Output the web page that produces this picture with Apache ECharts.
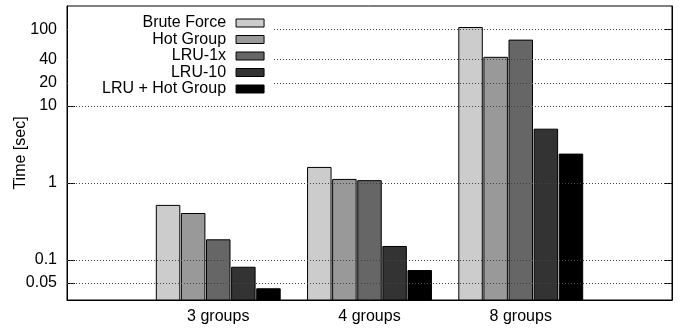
<!DOCTYPE html>
<html>
<head>
<meta charset="utf-8">
<script src="https://cdn.jsdelivr.net/npm/echarts@6/dist/echarts.min.js"></script>
<style>html,body{margin:0;padding:0;background:#fff}#c{width:684px;height:329px}</style>
</head>
<body>
<div id="c"></div>
<script>
const categories = ['', '3 groups', '4 groups', '8 groups', ''];
const seriesNames = ['Brute Force', 'Hot Group', 'LRU-1x', 'LRU-10', 'LRU + Hot Group'];
const bruteForce = [0.51, 1.59, 105];
const hotGroup = [0.40, 1.11, 43];
const lru1x = [0.182, 1.07, 72];
const lru10 = [0.080, 0.149, 5.0];
const lruHot = [0.042, 0.0725, 2.37];
const tickValues = [0.05, 0.1, 1, 10, 20, 40, 100];
const tickLabels = ['0.05', '0.1', '1', '10', '20', '40', '100'];
const yMin = 0.03;
const yMax = 200;
const colors = ['#cccccc', '#999999', '#666666', '#333333', '#000000'];
const seriesData = [bruteForce, hotGroup, lru1x, lru10, lruHot];

const FONT = 'Liberation Sans';
const BAR_W = 23.5;
const PITCH = 25.1;
const chart = echarts.init(document.getElementById('c'), null, {renderer: 'canvas'});
const labelMap = {};
tickValues.forEach((v, i) => { labelMap[String(v)] = tickLabels[i]; });

const bars = seriesNames.map((name, i) => ({
  name: name,
  type: 'custom',
  z: 3,
  itemStyle: {color: colors[i], borderColor: '#000', borderWidth: 1},
  emphasis: {disabled: true},
  animation: false,
  encode: {x: 0, y: 1},
  data: seriesData[i].map((v, k) => [k + 1, v]),
  renderItem: function (params, api) {
    const cat = api.value(0);
    const v = api.value(1);
    const top = api.coord([cat, v]);
    const bottom = api.coord([cat, yMin]);
    const offset = (i - (seriesNames.length - 1) / 2) * PITCH;
    return {
      type: 'rect',
      shape: {x: top[0] + offset - BAR_W / 2, y: top[1], width: BAR_W, height: bottom[1] - top[1]},
      style: {fill: colors[i], stroke: '#000', lineWidth: 1}
    };
  }
}));

const gridSeries = {
  name: 'grid',
  type: 'line',
  z: 1,
  data: [],
  silent: true,
  animation: false,
  markLine: {
    silent: true,
    symbol: ['none', 'none'],
    label: {show: false},
    animation: false,
    lineStyle: {color: '#444', width: 1, type: [1, 2]},
    data: tickValues.map(v => ({yAxis: v}))
  }
};

chart.setOption({
  animation: false,
  backgroundColor: '#fff',
  textStyle: {fontFamily: FONT},
  grid: {left: 67, right: 12, top: 6, bottom: 29, show: true, borderColor: '#000', borderWidth: 1, backgroundColor: 'transparent', containLabel: false, outerBoundsMode: 'none'},
  legend: {
    data: seriesNames,
    orient: 'vertical',
    align: 'right',
    left: 68,
    top: 8,
    padding: [7, 8, 4, 34],
    itemGap: 0.5,
    itemWidth: 28,
    itemHeight: 8,
    icon: 'rect',
    backgroundColor: '#fff',
    z: 10,
    selectedMode: false,
    itemStyle: {borderColor: '#000', borderWidth: 1},
    textStyle: {fontFamily: FONT, fontSize: 16, color: '#000', lineHeight: 16, padding: [0, 5, 0, 0]}
  },
  xAxis: {
    type: 'category',
    data: categories,
    boundaryGap: false,
    axisLine: {show: true, lineStyle: {color: '#000', width: 1}},
    axisTick: {show: false},
    splitLine: {show: false},
    axisLabel: {fontFamily: FONT, fontSize: 16, color: '#000', margin: 9, interval: 0}
  },
  yAxis: [{
    type: 'log',
    logBase: 10,
    min: yMin,
    max: yMax,
    name: 'Time [sec]',
    nameLocation: 'middle',
    nameRotate: 90,
    nameGap: 38,
    nameMoveOverlap: false,
    nameTextStyle: {fontFamily: FONT, fontSize: 16, color: '#000'},
    axisLine: {show: true, lineStyle: {color: '#000', width: 1}},
    axisTick: {show: true, inside: true, length: 8, customValues: tickValues, lineStyle: {color: '#000'}},
    splitLine: {show: false},
    axisLabel: {
      fontFamily: FONT, fontSize: 16, color: '#000', margin: 10,
      customValues: tickValues,
      formatter: v => labelMap[String(v)] !== undefined ? labelMap[String(v)] : String(v)
    }
  }, {
    type: 'log',
    logBase: 10,
    min: yMin,
    max: yMax,
    position: 'right',
    axisLine: {show: true, lineStyle: {color: '#000', width: 1}},
    axisTick: {show: true, inside: true, length: 8, customValues: tickValues, lineStyle: {color: '#000'}},
    splitLine: {show: false},
    axisLabel: {show: false}
  }],
  series: [gridSeries].concat(bars)
});
</script>
</body>
</html>
